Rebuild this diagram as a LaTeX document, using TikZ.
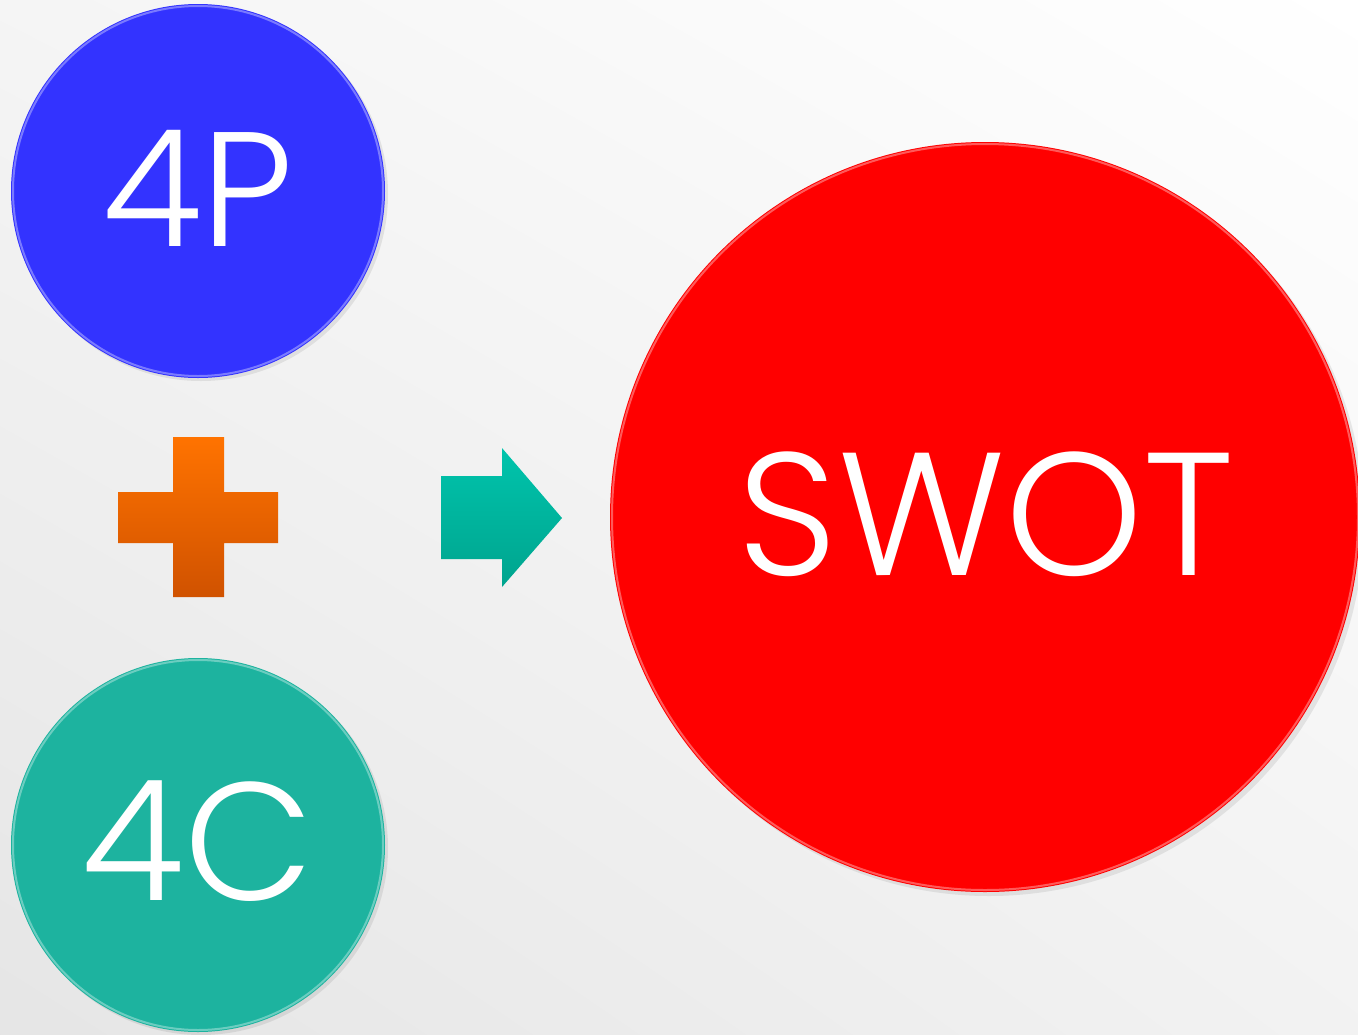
\documentclass[tikz,border=0pt]{standalone}
\usepackage{fontspec}
\setmainfont{Poppins}[UprightFont=* Light]
\usetikzlibrary{shapes.geometric,shadings}
\definecolor{bluec}{HTML}{3333FF}
\definecolor{tealc}{HTML}{1DB39F}
\definecolor{redc}{HTML}{FF0000}
\definecolor{orangetop}{HTML}{FF7300}
\definecolor{orangebot}{HTML}{D05200}
\definecolor{arrowtop}{HTML}{00C4AC}
\definecolor{arrowbot}{HTML}{00A48E}
\tikzset{
  rim/.style={line width=2pt, draw=white, draw opacity=0.35},
  lbl/.style={text=white, inner sep=0pt, anchor=center},
}
\begin{document}
\begin{tikzpicture}[x=1pt,y=-1pt]
\useasboundingbox (0,0) rectangle (1358,1034);
\shade[upper right=white, upper left=black!4, lower left=black!10, lower right=black!5] (0,0) rectangle (1358,1034);
% circles
\fill[black, opacity=0.08] (201,194) circle (187);
\fill[bluec] (198,191) circle (187);
\draw[rim] (198,191) circle (185);
\node[lbl, font=\fontsize{163}{163}\selectfont] (p) at (198,188) {4P};

\fill[black, opacity=0.08] (201,848) circle (187);
\fill[tealc] (198,845) circle (187);
\draw[rim] (198,845) circle (185);
\node[lbl, font=\fontsize{168}{168}\selectfont] (c) at (198,841) {4C};

\fill[black, opacity=0.08] (989,521) circle (375);
\fill[redc] (985,517) circle (375);
\draw[rim] (985,517) circle (373);
\node[lbl, font=\fontsize{175}{175}\selectfont] (s) at (986,514) {SWOT};

% plus
\shade[top color=orangetop, bottom color=orangebot]
  (173,437) -- (224,437) -- (224,492) -- (278,492) -- (278,543) -- (224,543)
  -- (224,597) -- (173,597) -- (173,543) -- (118,543) -- (118,492) -- (173,492) -- cycle;
\coordinate (plus) at (198,517);
% arrow
\shade[top color=arrowtop, bottom color=arrowbot]
  (441,476) -- (502,476) -- (502,448) -- (562,518) -- (502,587) -- (502,559) -- (441,559) -- cycle;
\coordinate (arr) at (500,517);
\end{tikzpicture}
\end{document}
